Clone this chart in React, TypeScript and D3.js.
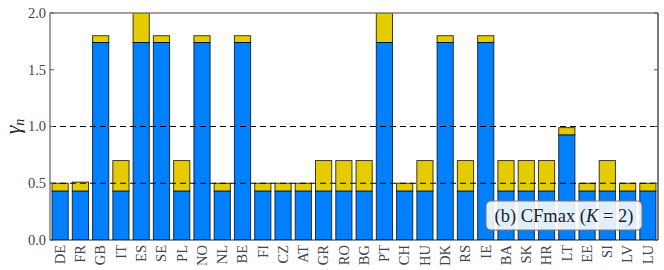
import React from 'react';
import * as d3 from 'd3';

const countries = ['DE', 'FR', 'GB', 'IT', 'ES', 'SE', 'PL', 'NO', 'NL', 'BE', 'FI', 'CZ', 'AT', 'GR', 'RO',
  'BG', 'PT', 'CH', 'HU', 'DK', 'RS', 'IE', 'BA', 'SK', 'HR', 'LT', 'EE', 'SI', 'LV', 'LU'];
const baseValues = [0.43, 0.43, 1.74, 0.43, 1.74, 1.74, 0.43, 1.74, 0.43, 1.74, 0.43, 0.43, 0.43, 0.43, 0.43,
  0.43, 1.74, 0.43, 0.43, 1.74, 0.43, 1.74, 0.43, 0.43, 0.43, 0.925, 0.43, 0.43, 0.43, 0.43];
const totalValues = [0.5, 0.51, 1.8, 0.7, 2.0, 1.8, 0.7, 1.8, 0.5, 1.8, 0.5, 0.5, 0.5, 0.7, 0.7,
  0.7, 2.0, 0.5, 0.7, 1.8, 0.7, 1.8, 0.7, 0.7, 0.7, 0.99, 0.5, 0.7, 0.5, 0.5];
const yTicks = [0, 0.5, 1.0, 1.5, 2.0];
const refLines = [0.5, 1.0];

const W = 664;
const H = 270;
const left = 50, right = 658, top = 13, bottom = 240;
const barW = 0.8;
const blue = '#0080ff';
const yellow = '#e5cc00';
const serif = "'Liberation Serif', 'DejaVu Serif', serif";

export default function App() {
  const x = d3.scaleLinear().domain([-0.1, countries.length - 0.1]).range([left, right]);
  const y = d3.scaleLinear().domain([0, 2]).range([bottom, top]);
  const fmt = d3.format('.1f');

  return (
    <svg width={W} height={H} style={{ position: 'absolute', left: 0, top: 0, background: '#fff' }}>
      <defs>
        <clipPath id="plot">
          <rect x={left} y={top} width={right - left} height={bottom - top} />
        </clipPath>
      </defs>

      <g clipPath="url(#plot)">
        {countries.map((c, i) => (
          <g key={c}>
            <rect x={x(i)} y={y(totalValues[i])} width={x(barW) - x(0)} height={y(baseValues[i]) - y(totalValues[i])}
              fill={yellow} stroke="#000" strokeOpacity={0.75} strokeWidth={1} />
            <rect x={x(i)} y={y(baseValues[i])} width={x(barW) - x(0)} height={y(0) - y(baseValues[i])}
              fill={blue} stroke="#000" strokeOpacity={0.75} strokeWidth={1} />
          </g>
        ))}
        {refLines.map(v => (
          <line key={v} x1={left} x2={right} y1={y(v)} y2={y(v)} stroke="#000" strokeWidth={1} strokeDasharray="6,4" />
        ))}
      </g>

      {/* frame */}
      <line x1={left} x2={right} y1={top} y2={top} stroke="#808080" strokeWidth={1.5} />
      <line x1={left} x2={left} y1={top} y2={bottom} stroke="#808080" strokeWidth={1.5} />
      <line x1={right} x2={right} y1={top} y2={bottom} stroke="#222" strokeWidth={1.2} />
      <line x1={left} x2={right} y1={bottom} y2={bottom} stroke="#222" strokeWidth={1.2} />

      {/* y ticks */}
      {yTicks.map(t => (
        <g key={t}>
          <line x1={left} x2={left + 4} y1={y(t)} y2={y(t)} stroke="#555" />
          <line x1={right - 4} x2={right} y1={y(t)} y2={y(t)} stroke="#555" />
          <text x={left - 4} y={y(t)} dy="0.33em" textAnchor="end" fontFamily={serif} fontSize={14.5} fill="#444">
            {fmt(t)}
          </text>
        </g>
      ))}

      {/* x labels */}
      {countries.map((c, i) => (
        <text key={c} transform={`translate(${x(i + barW / 2)},${bottom + 5}) rotate(-90)`} textAnchor="end" dy="0.33em"
          fontFamily={serif} fontSize={14.5} fill="#444">
          {c}
        </text>
      ))}

      {/* y label */}
      <text transform={`translate(20,${(top + bottom) / 2}) rotate(-90)`} textAnchor="middle" fontFamily={serif}
        fontSize={22} fill="#222">
        <tspan fontStyle="italic">γ</tspan>
        <tspan fontStyle="italic" fontSize={14} dy={4}>n</tspan>
      </text>

      {/* legend box */}
      <rect x={486} y={201} width={156} height={29} rx={5} fill="#fff" fillOpacity={0.88} stroke="#777" strokeWidth={1} />
      <text x={564} y={216} dy="0.33em" textAnchor="middle" fontFamily={serif} fontSize={18.5} fill="#222">
        (b) CFmax (<tspan fontStyle="italic">K</tspan> = 2)
      </text>
    </svg>
  );
}
